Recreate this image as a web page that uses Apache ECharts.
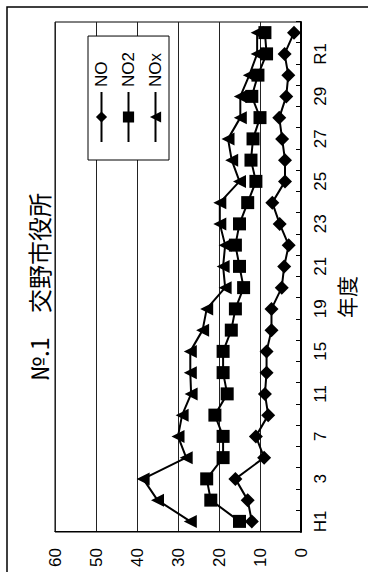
<!DOCTYPE html>
<html>
<head>
<meta charset="utf-8">
<script src="https://cdn.jsdelivr.net/npm/echarts@6/dist/echarts.min.js"></script>
<style>
  html, body { margin: 0; padding: 0; background: #fff; overflow: hidden; width: 368px; height: 572px; }
  /* The chart is laid out landscape and turned a quarter turn counter-clockwise */
  #chart {
    position: absolute; left: 0; top: 0;
    width: 572px; height: 368px;
    transform-origin: 0 0;
    transform: translate(0, 572px) rotate(-90deg);
  }
</style>
</head>
<body>
<div id="chart"></div>
<script>
// Fiscal years (Heisei / Reiwa); labels shown on every other year
const years = ['H1','2','3','5','7','9','11','13','15','17','19','20','21','22','23','24','25','26','27','28','29','30','R1','R2'];

// Annual means (ppb)
const noValues  = [12, 13, 16, 9, 11, 8, 8.8, 8.4, 8.4, 7.2, 7.2, 4.7, 4.1, 3, 5.2, 7, 3.9, 3.9, 4.6, 5.3, 3.6, 3.1, 4, 1.7];
const no2Values = [15, 22, 23, 19, 19, 21, 18, 19, 19, 17, 16, 14, 15, 16, 15, 13, 11, 12.2, 11.7, 10, 12, 10.5, 8.4, 8.8];
const noxValues = [27, 35, 38.5, 28, 30, 29, 26.8, 27, 27, 24, 23, 18.5, 19, 18.5, 19.8, 19.8, 15, 16.9, 17.8, 14.8, 14.8, 12.6, 10.7, 10.7];

const valueTicks = { min: 0, max: 60, step: 10 };
const titleText = '№.1　交野市役所';
const axisTitle = '年度';

const chart = echarts.init(document.getElementById('chart'), null, { renderer: 'svg' });

const latin = 'Liberation Sans, Arial, sans-serif';
const cjk = 'Noto Sans CJK JP, sans-serif';

function lineSeries(name, data, symbol, size) {
  return {
    name, type: 'line', data,
    symbol, symbolSize: size,
    showAllSymbol: true,
    lineStyle: { color: '#000', width: 2 },
    itemStyle: { color: '#000', borderColor: '#000', borderWidth: 0 },
    emphasis: { disabled: true },
    animation: false
  };
}

chart.setOption({
  backgroundColor: '#fff',
  animation: false,
  title: {
    text: titleText,
    left: 186, top: 21,
    textStyle: { fontFamily: cjk, fontSize: 24, fontWeight: 'normal', color: '#000' }
  },
  graphic: [{
    type: 'rect', silent: true,
    shape: { x: -20, y: 7, width: 585, height: 380 },
    style: { fill: 'none', stroke: '#000', lineWidth: 1.5 }
  }],
  legend: {
    orient: 'vertical',
    left: 412, top: 88,
    padding: [5, 16, 5, 17],
    itemWidth: 50, itemHeight: 14, itemGap: 10, itemTextGap: 6,
    backgroundColor: '#fff',
    borderColor: '#000', borderWidth: 1,
    textStyle: { fontFamily: latin, fontSize: 17, color: '#000' },
    data: ['NO', 'NO2', 'NOx']
  },
  grid: {
    left: 40, right: 22, top: 55, bottom: 67,
    containLabel: false, outerBoundsMode: 'none',
    show: true, borderColor: '#000', borderWidth: 1, backgroundColor: 'transparent'
  },
  xAxis: {
    type: 'category',
    data: years,
    boundaryGap: true,
    name: axisTitle,
    nameLocation: 'middle',
    nameGap: 34,
    nameTextStyle: { fontFamily: cjk, fontSize: 21, color: '#000', padding: [0, 40, 0, 0] },
    axisLine: { lineStyle: { color: '#000', width: 2 } },
    axisTick: { show: true, inside: true, length: 5, interval: 0, lineStyle: { color: '#000', width: 1 } },
    axisLabel: { interval: 1, margin: 11, fontFamily: latin, fontSize: 17, color: '#000' },
    splitLine: { show: false }
  },
  yAxis: {
    type: 'value',
    min: valueTicks.min, max: valueTicks.max, interval: valueTicks.step,
    axisLine: { show: true, lineStyle: { color: '#000', width: 1 } },
    axisTick: { show: false },
    axisLabel: { margin: 16, fontFamily: latin, fontSize: 17, color: '#000' },
    splitLine: { show: true, lineStyle: { color: '#222', width: 1 } }
  },
  series: [
    lineSeries('NO', noValues, 'diamond', 14),
    lineSeries('NO2', no2Values, 'rect', 13),
    lineSeries('NOx', noxValues, 'triangle', 13)
  ]
});
</script>
</body>
</html>
